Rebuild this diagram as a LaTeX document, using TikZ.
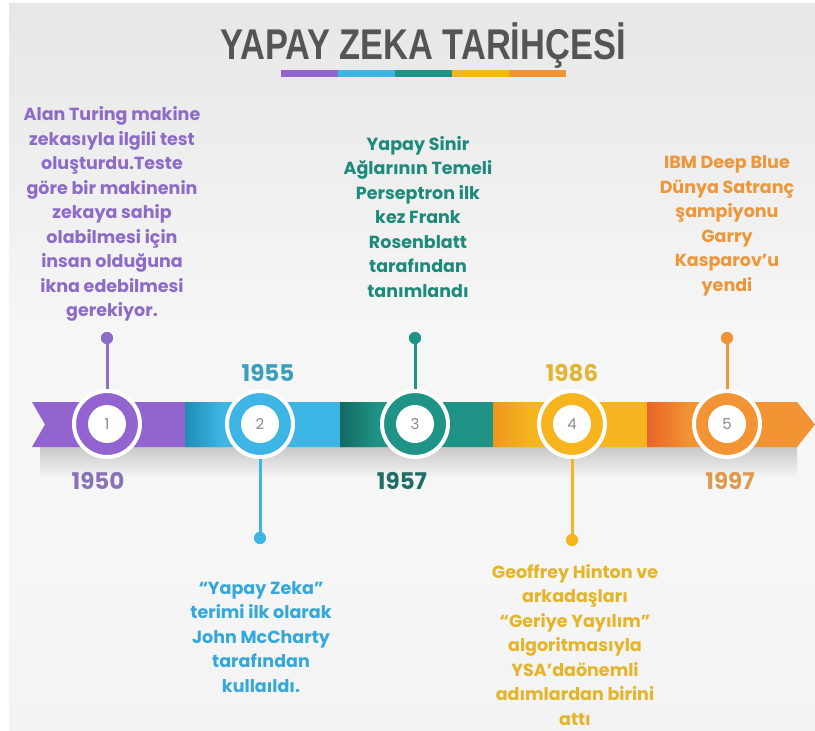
\documentclass[tikz,border=0pt]{standalone}
\usepackage{fontspec}
\setmainfont{Poppins}
\newfontfamily\titlefont[FakeStretch=0.8]{Liberation Sans}
\usetikzlibrary{calc}

\definecolor{bgtop}{HTML}{E7E7E7}
\definecolor{bgmid}{HTML}{F6F6F6}
\definecolor{bgbot}{HTML}{F3F3F3}
\definecolor{titlegray}{HTML}{555555}
\definecolor{numgray}{HTML}{8A8A8A}
% timeline colours
\definecolor{cpurple}{HTML}{9164CF}
\definecolor{cblue}{HTML}{3DB6E6}
\definecolor{cbluedk}{HTML}{1F8DB4}
\definecolor{cteal}{HTML}{1F9386}
\definecolor{ctealdk}{HTML}{136A62}
\definecolor{cyellow}{HTML}{F6B51E}
\definecolor{cyellowdk}{HTML}{EF961C}
\definecolor{corange}{HTML}{F39434}
\definecolor{corangedk}{HTML}{E96526}
% text colours
\definecolor{tpurple}{HTML}{8D6BC9}
\definecolor{tblue}{HTML}{35A8DB}
\definecolor{tteal}{HTML}{1E8A7C}
\definecolor{tyellow}{HTML}{E6B428}
\definecolor{torange}{HTML}{EE9638}
\definecolor{ypurple}{HTML}{8A72B8}
\definecolor{yblue}{HTML}{3B9EBD}
\definecolor{yteal}{HTML}{1E6E66}
\definecolor{yyellow}{HTML}{E3B535}
\definecolor{yorange}{HTML}{DC9B4F}

\tikzset{
  ring/.style={circle, fill=#1, draw=white, line width=4pt, minimum size=66pt, inner sep=0pt},
  hub/.style={circle, fill=white, minimum size=38pt, inner sep=0pt, text=numgray,
    font=\fontsize{15}{15}\selectfont},
  pin/.style={circle, fill=#1, minimum size=12pt, inner sep=0pt},
  stem/.style={draw=#1, line width=3pt},
  year/.style={text=#1, font=\bfseries\fontsize{23}{23}\selectfont},
  blurb/.style={text=#1, align=center, inner sep=0pt,
    font=\bfseries\fontsize{17.5}{24.5}\selectfont},
}

\begin{document}
\begin{tikzpicture}[x=1pt,y=-1pt]
\useasboundingbox (0,0) rectangle (815,731);

% page background
\fill[white] (0,0) rectangle (815,731);
\shade[top color=bgtop, bottom color=bgmid] (9,3) rectangle (815,330);
\fill[bgmid] (9,329) rectangle (815,560);
\shade[top color=bgmid, bottom color=bgbot] (9,559) rectangle (815,731);

% title and colour strip
\node[text=titlegray, font=\titlefont\bfseries\fontsize{43}{43}\selectfont] (title) at (423,46) {YAPAY ZEKA TARİHÇESİ};
\fill[cpurple] (281,70) rectangle (338,77);
\fill[cblue]   (338,70) rectangle (395,77);
\fill[cteal]   (395,70) rectangle (452,77);
\fill[cyellow] (452,70) rectangle (509,77);
\fill[corange] (509,70) rectangle (566,77);

% soft shadow under the band
\shade[top color=black!22, bottom color=bgmid] (40,446) rectangle (797,478);

% timeline band
\begin{scope}
  \clip (32,402) -- (797,402) -- (815,424.5) -- (797,447) -- (32,447) -- (45,424.5) -- cycle;
  \fill[cpurple] (30,400) rectangle (185,450);
  \fill[cblue]   (185,400) rectangle (340,450);
  \fill[cteal]   (340,400) rectangle (493,450);
  \fill[cyellow] (493,400) rectangle (647,450);
  \fill[corange] (647,400) rectangle (816,450);
  \shade[left color=cbluedk, right color=cblue] (185,400) rectangle (222,450);
  \shade[left color=ctealdk, right color=cteal] (340,400) rectangle (377,450);
  \shade[left color=cyellowdk, right color=cyellow] (493,400) rectangle (530,450);
  \shade[left color=corangedk, right color=corange] (647,400) rectangle (690,450);
\end{scope}

% milestone pins
\node[pin=tpurple] (d1) at (107,338) {};
\node[pin=cblue]   (d2) at (260,538) {};
\node[pin=cteal]   (d3) at (415,338) {};
\node[pin=cyellow] (d4) at (572,540) {};
\node[pin=corange] (d5) at (727,338) {};

% milestone rings
\node[ring=cpurple] (c1) at (107,424) {};
\node[ring=cblue]   (c2) at (260,424) {};
\node[ring=cteal]   (c3) at (415,424) {};
\node[ring=cyellow] (c4) at (572,424) {};
\node[ring=corange] (c5) at (727,424) {};

% stems
\draw[stem=tpurple] (c1.north) -- (d1.center);
\draw[stem=cblue]   (c2.south) -- (d2.center);
\draw[stem=cteal]   (c3.north) -- (d3.center);
\draw[stem=cyellow] (c4.south) -- (d4.center);
\draw[stem=corange] (c5.north) -- (d5.center);
\node[pin=tpurple] at (d1) {};
\node[pin=cblue]   at (d2) {};
\node[pin=cteal]   at (d3) {};
\node[pin=cyellow] at (d4) {};
\node[pin=corange] at (d5) {};

% numbers
\node[hub] (n1) at (c1) {1};
\node[hub] (n2) at (c2) {2};
\node[hub] (n3) at (c3) {3};
\node[hub] (n4) at (c4) {4};
\node[hub] (n5) at (c5) {5};

% years
\node[year=ypurple] (y1) at (98,481) {1950};
\node[year=yblue]   (y2) at (268,373) {1955};
\node[year=yteal]   (y3) at (402,481) {1957};
\node[year=yyellow] (y4) at (572,373) {1986};
\node[year=yorange] (y5) at (730,481) {1997};

% descriptions
\node[blurb=tpurple] (t1) at (112,214) {Alan Turing makine\\zekasıyla ilgili test\\oluşturdu.Teste\\göre bir makinenin\\zekaya sahip\\olabilmesi için\\insan olduğuna\\ikna edebilmesi\\gerekiyor.};
\node[blurb=tblue] (t2) at (261,637) {“Yapay Zeka”\\terimi ilk olarak\\John McCharty\\tarafından\\kullaıldı.};
\node[blurb=tteal] (t3) at (418,217) {Yapay Sinir\\Ağlarının Temeli\\Perseptron ilk\\kez Frank\\Rosenblatt\\tarafından\\tanımlandı};
\node[blurb=tyellow] (t4) at (575,645) {Geoffrey Hinton ve\\arkadaşları\\“Geriye Yayılım”\\algoritmasıyla\\YSA’daönemli\\adımlardan birini\\attı};
\node[blurb=torange] (t5) at (727,226) {IBM Deep Blue\\Dünya Satranç\\şampiyonu\\Garry\\Kasparov’u\\yendi};
\end{tikzpicture}
\end{document}
